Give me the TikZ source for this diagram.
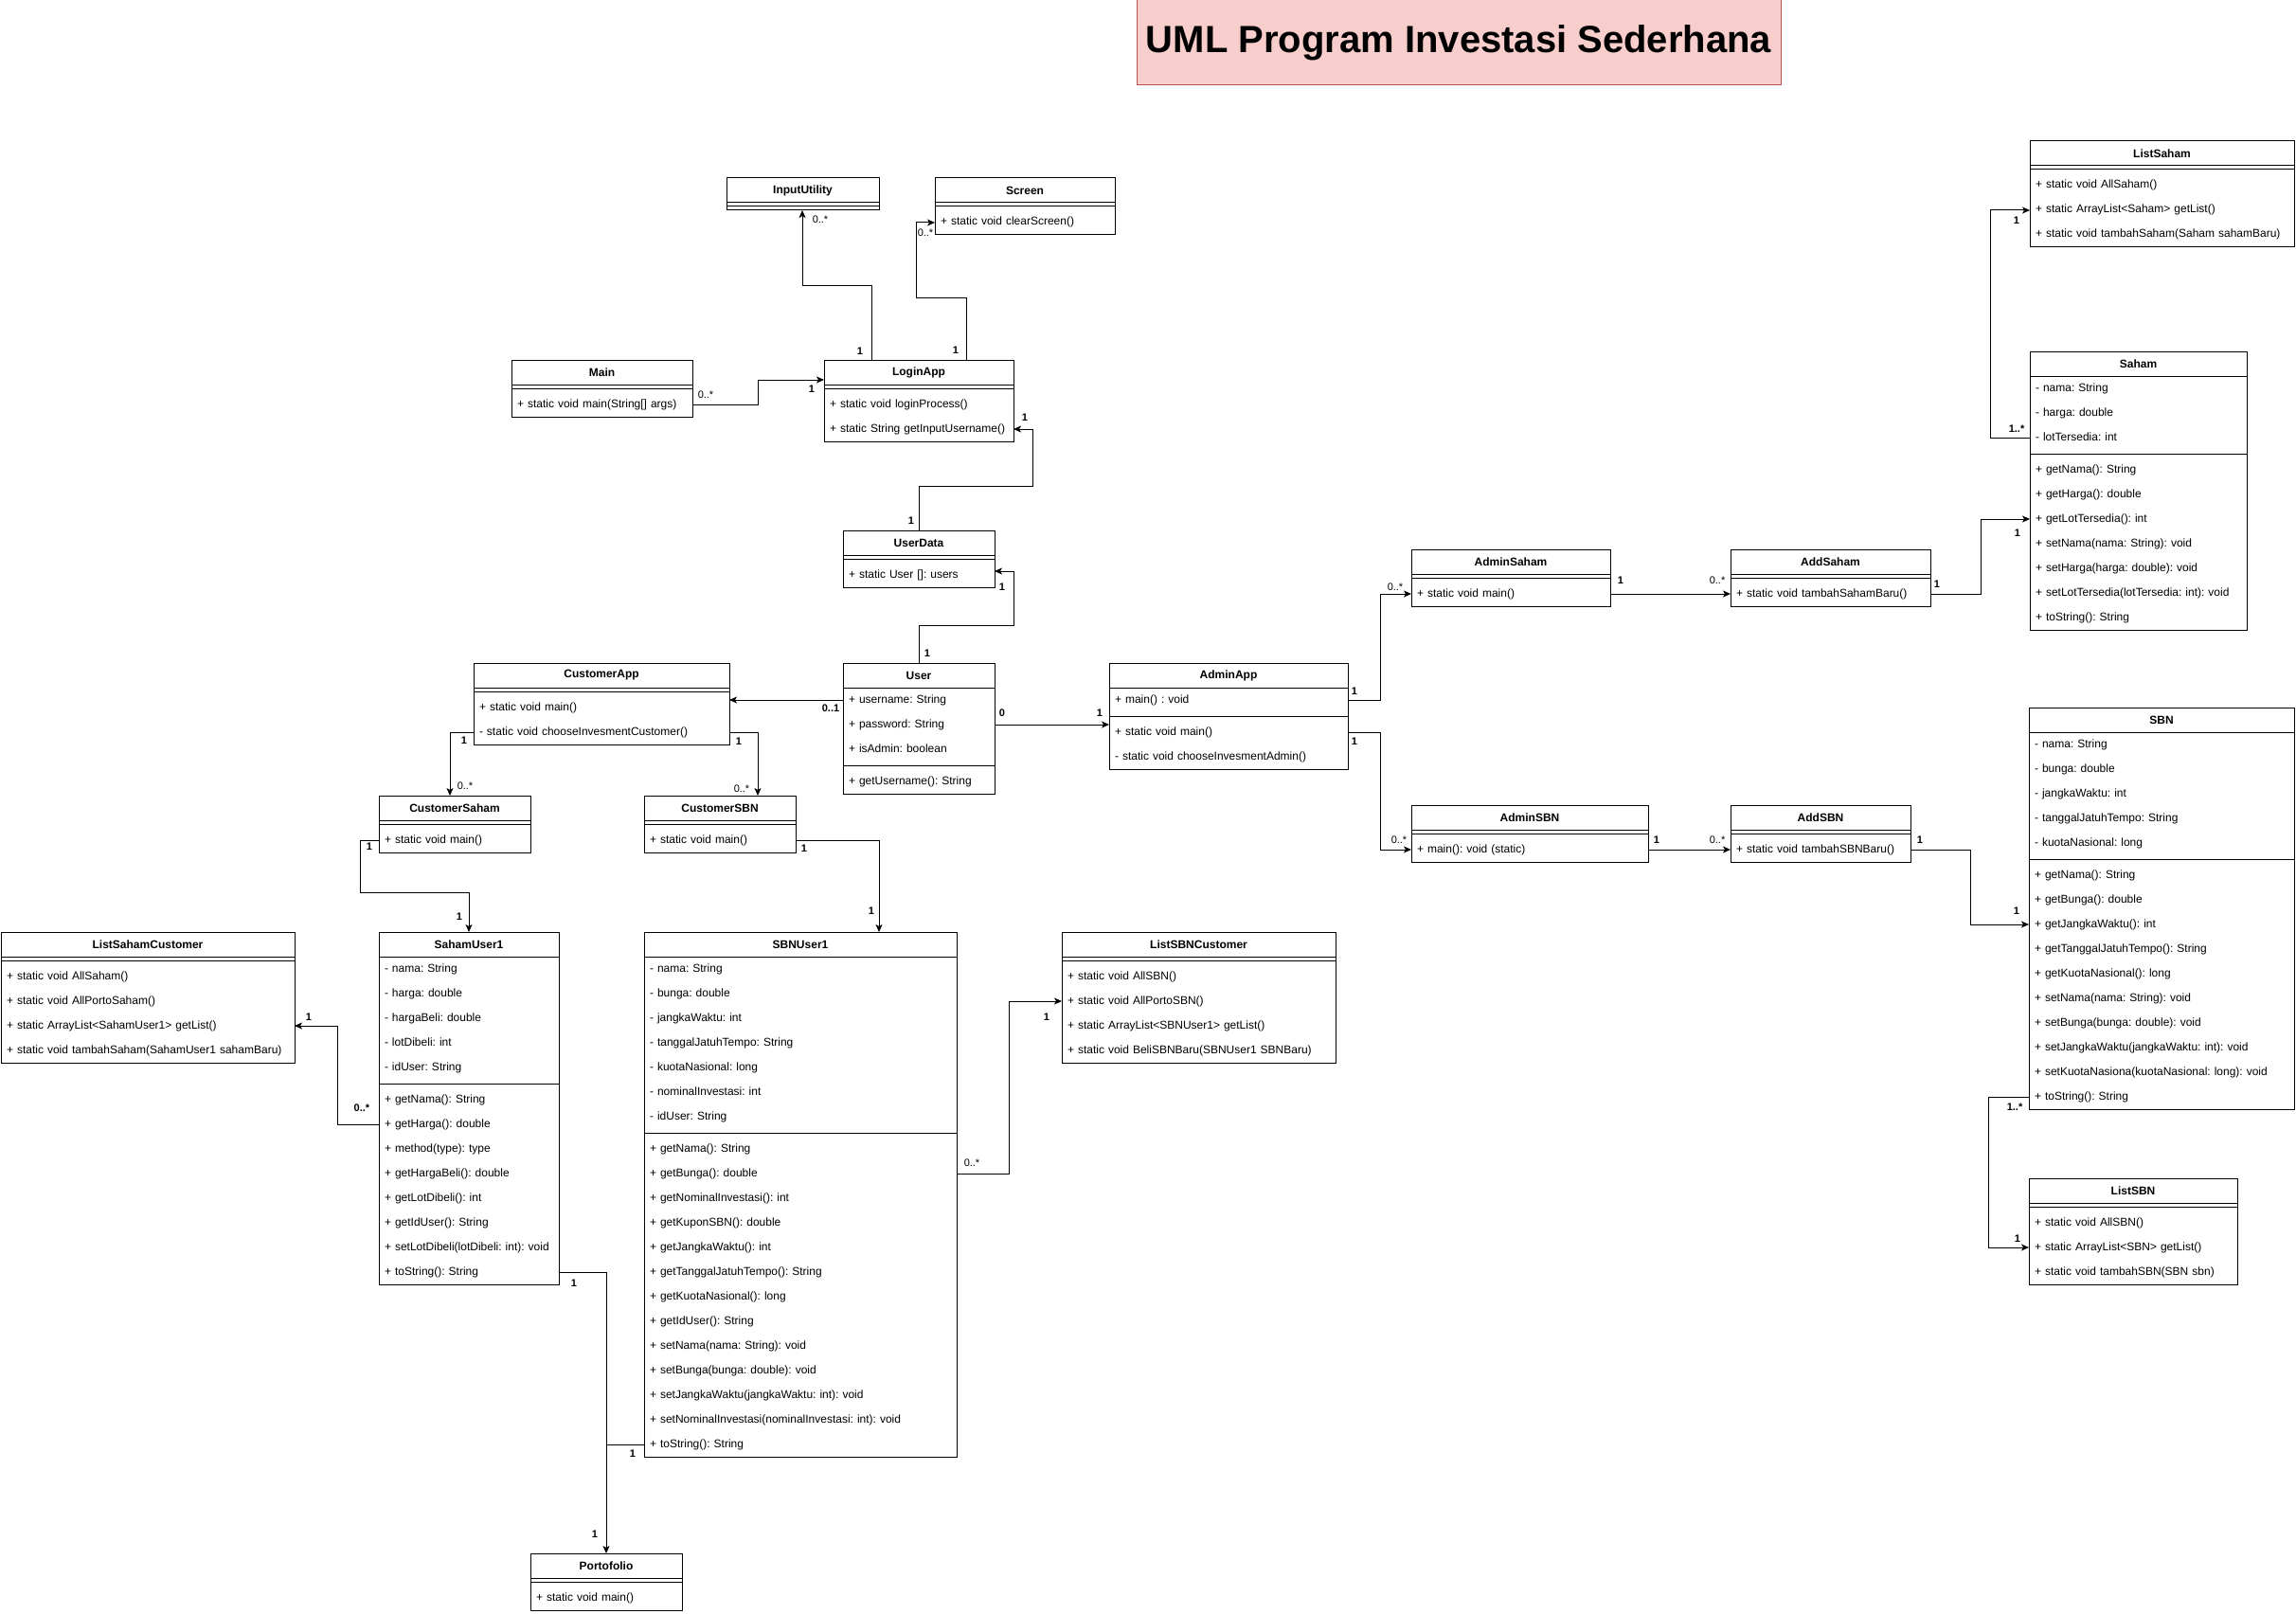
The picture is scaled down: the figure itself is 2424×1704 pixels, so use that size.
\documentclass[tikz,border=0pt]{standalone}
\usepackage{fontspec}
\setmainfont{Liberation Sans}
\frenchspacing
\usetikzlibrary{arrows.meta}
\definecolor{titlefill}{HTML}{F8CECC}
\definecolor{titledraw}{HTML}{B85450}

\tikzset{
    clshead/.style={anchor=north west, inner sep=0pt, outer sep=0pt,
      font=\bfseries\fontsize{12}{14}\selectfont},
    clsrow/.style={anchor=north west, inner xsep=6pt, inner ysep=0pt, outer sep=0pt,
      text height=9pt, text depth=3pt, align=left, font=\fontsize{12}{14}\selectfont},
}

% class box: [row height]{name}{x}{y}{width}{title}{attributes}{methods}
\newcommand{\umlclass}[8][26]{%
  \node[clshead, minimum width=#5pt, minimum height=#1pt] (#2) at (#3,#4) {#6};
  \xdef\cury{\the\numexpr#4+#1\relax}%
  \def\attrlist{#7}%
  \ifx\attrlist\empty\else
    \foreach \rowtxt [count=\rowno] in {#7}{%
      \node[clsrow, text width=\the\numexpr#5-12\relax pt, minimum height=#1pt]
        (#2-a\rowno) at (#3,\cury) {\mbox{\rowtxt}};
      \xdef\cury{\the\numexpr\cury+#1\relax}%
    }%
  \fi
  \draw (#3,\cury+4) -- ++(#5,0);
  \xdef\cury{\the\numexpr\cury+8\relax}%
  \def\methlist{#8}%
  \ifx\methlist\empty\else
    \foreach \rowtxt [count=\rowno] in {#8}{%
      \node[clsrow, text width=\the\numexpr#5-12\relax pt, minimum height=#1pt]
        (#2-m\rowno) at (#3,\cury) {\mbox{\rowtxt}};
      \xdef\cury{\the\numexpr\cury+#1\relax}%
    }%
  \fi
  \coordinate (#2-bot) at (#3+#5/2,\cury);
  \draw (#2.south west) -- (#2.south east);
  \draw (#3,#4) rectangle (#3+#5,\cury);
}

\begin{document}
\begin{tikzpicture}[x=1pt, y=-1pt, line width=1pt,
  assoc/.style={draw, -{Stealth[length=8pt,width=7pt,inset=2pt]}},
  mult/.style={inner sep=0pt, font=\fontsize{11}{13}\selectfont},
  multb/.style={inner sep=0pt, font=\bfseries\fontsize{11}{13}\selectfont},
  titlebox/.style={draw=titledraw, fill=titlefill, minimum width=680pt,
    minimum height=90pt, inner sep=0pt, font=\bfseries\fontsize{40}{48}\selectfont}
]
\useasboundingbox (0,0) rectangle (2424,1704);
\node[titlebox] (title) at (1540,45) {UML Program Investasi Sederhana};

% login side
\umlclass{iu}{767}{188}{161}{InputUtility}{}{}
\umlclass{screen}{987}{188}{190}{Screen}{}{+ static void clearScreen()}
\umlclass{main}{540}{380}{191}{Main}{}{+ static void main(String[] args)}
\umlclass{login}{870}{380}{200}{LoginApp}{}{+ static void loginProcess(),
  + static String getInputUsername()}
\umlclass{udata}{890}{560}{160}{UserData}{}{+ static User []: users}
\umlclass{user}{890}{700}{160}{User}{+ username: String, + password: String,
  + isAdmin: boolean}{+ getUsername(): String}

% customer side
\umlclass{custapp}{500}{700}{270}{CustomerApp}{}{+ static void main(),
  - static void chooseInvesmentCustomer()}
\umlclass{custsaham}{400}{840}{160}{CustomerSaham}{}{+ static void main()}
\umlclass{custsbn}{680}{840}{160}{CustomerSBN}{}{+ static void main()}
\umlclass{lsc}{1}{984}{310}{ListSahamCustomer}{}{+ static void AllSaham(),
  + static void AllPortoSaham(), + static ArrayList<SahamUser1> getList(),
  + static void tambahSaham(SahamUser1 sahamBaru)}
\umlclass{sahamu}{400}{984}{190}{SahamUser1}{- nama: String, - harga: double,
  - hargaBeli: double, - lotDibeli: int, - idUser: String}{+ getNama(): String,
  + getHarga(): double, + method(type): type, + getHargaBeli(): double,
  + getLotDibeli(): int, + getIdUser(): String,
  + setLotDibeli(lotDibeli: int): void, + toString(): String}
\umlclass{sbnu}{680}{984}{330}{SBNUser1}{- nama: String, - bunga: double,
  - jangkaWaktu: int, - tanggalJatuhTempo: String, - kuotaNasional: long,
  - nominalInvestasi: int, - idUser: String}{+ getNama(): String,
  + getBunga(): double, + getNominalInvestasi(): int, + getKuponSBN(): double,
  + getJangkaWaktu(): int, + getTanggalJatuhTempo(): String,
  + getKuotaNasional(): long, + getIdUser(): String,
  + setNama(nama: String): void, + setBunga(bunga: double): void,
  + setJangkaWaktu(jangkaWaktu: int): void,
  + setNominalInvestasi(nominalInvestasi: int): void, + toString(): String}
\umlclass{lsbnc}{1121}{984}{289}{ListSBNCustomer}{}{+ static void AllSBN(),
  + static void AllPortoSBN(), + static ArrayList<SBNUser1> getList(),
  + static void BeliSBNBaru(SBNUser1 SBNBaru)}
\umlclass{porto}{560}{1640}{160}{Portofolio}{}{+ static void main()}

% admin side
\umlclass{adminapp}{1171}{700}{252}{AdminApp}{+ main() : void}{+ static void main(),
  - static void chooseInvesmentAdmin()}
\umlclass{adminsaham}{1490}{580}{210}{AdminSaham}{}{+ static void main()}
\umlclass{addsaham}{1827}{580}{211}{AddSaham}{}{+ static void tambahSahamBaru()}
\umlclass{adminsbn}{1490}{850}{250}{AdminSBN}{}{+ main(): void (static)}
\umlclass{addsbn}{1827}{850}{190}{AddSBN}{}{+ static void tambahSBNBaru()}
\umlclass{lsaham}{2143}{149}{279}{ListSaham}{}{+ static void AllSaham(),
  + static ArrayList<Saham> getList(), + static void tambahSaham(Saham sahamBaru)}
\umlclass{saham}{2143}{371}{229}{Saham}{- nama: String, - harga: double,
  - lotTersedia: int}{+ getNama(): String, + getHarga(): double,
  + getLotTersedia(): int, + setNama(nama: String): void,
  + setHarga(harga: double): void, + setLotTersedia(lotTersedia: int): void,
  + toString(): String}
\umlclass{sbn}{2142}{747}{280}{SBN}{- nama: String, - bunga: double,
  - jangkaWaktu: int, - tanggalJatuhTempo: String, - kuotaNasional: long}{
  + getNama(): String, + getBunga(): double, + getJangkaWaktu(): int,
  + getTanggalJatuhTempo(): String, + getKuotaNasional(): long,
  + setNama(nama: String): void, + setBunga(bunga: double): void,
  + setJangkaWaktu(jangkaWaktu: int): void,
  + setKuotaNasiona(kuotaNasional: long): void, + toString(): String}
\umlclass{lsbn}{2142}{1244}{220}{ListSBN}{}{+ static void AllSBN(),
  + static ArrayList<SBN> getList(), + static void tambahSBN(SBN sbn)}

% associations
\draw[assoc] (main-m1.east) -- ++(69,0) |- ([yshift=-8pt]login.west);
\draw[assoc] ([xshift=-50pt]login.north) |- (847,301) -- (847,0 |- iu-bot);
\draw[assoc] ([xshift=50pt]login.north) |- (967,314) |- (screen-m1.west);
\draw[assoc] (udata.north) |- (1090,513) |- (login-m2.east);
\draw[assoc] (user.north) |- (1070,660) |- ([yshift=4pt]udata-m1.east);
\draw[assoc] (user-a1.west) -- (custapp-m1.east |- user-a1.west);
\draw[assoc] (user-a2.east) -- (adminapp.west |- user-a2.east);
\draw[assoc] (custapp-m2.west) -| ([xshift=-5pt]custsaham.north);
\draw[assoc] (custapp-m2.east) -| ([xshift=40pt]custsbn.north);
\draw[assoc] (custsaham-m1.west) -| (380,942) -| (sahamu.north);
\draw[assoc] (custsbn-m1.east) -| ([xshift=83pt]sbnu.north);
\draw[assoc] (sahamu-m2.west) -- ++(-44,0) |- (lsc-m3.east);
\draw[assoc] (sahamu-m8.east) -| (porto.north);
\draw (sbnu-m13.west) -- (porto.north |- sbnu-m13.west);
\draw[assoc] (sbnu-m2.east) -- ++(55,0) |- (lsbnc-m2.west);
\draw[assoc] (adminapp-a1.east) -- ++(34,0) |- (adminsaham-m1.west);
\draw[assoc] (adminapp-m1.east) -- ++(34,0) |- (adminsbn-m1.west);
\draw[assoc] (adminsaham-m1.east) -- (addsaham-m1.west);
\draw[assoc] (adminsbn-m1.east) -- (addsbn-m1.west);
\draw[assoc] (addsaham-m1.east) -| ([xshift=-52pt]saham-m3.west) -- (saham-m3.west);
\draw[assoc] (addsbn-m1.east) -| ([xshift=-62pt]sbn-m3.west) -- (sbn-m3.west);
\draw[assoc] (saham-a3.west) -- ++(-42,0) |- (lsaham-m2.west);
\draw[assoc] (sbn-m10.west) -- ++(-43,0) |- (lsbn-m2.west);

% multiplicities
\foreach \lx/\ly/\lt/\ls [count=\n] in {
  745/417/0..*/mult, 857/411/1/multb, 866/232/0..*/mult, 908/371/1/multb,
  977/246/0..*/mult, 1009/370/1/multb, 962/550/1/multb, 1082/441/1/multb,
  1058/620/1/multb, 979/690/1/multb, 877/748/0..1/multb,
  1058/753/0/multb, 1161/753/1/multb, 490/782/1/multb, 491/830/0..*/mult,
  780/783/1/multb, 783/833/0..*/mult, 390/894/1/multb, 485/968/1/multb,
  849/896/1/multb, 920/962/1/multb, 326/1074/1/multb, 382/1170/0..*/multb,
  606/1355/1/multb, 628/1620/1/multb, 668/1535/1/multb,
  1026/1228/0..*/mult, 1105/1074/1/multb,
  1430/730/1/multb, 1473/620/0..*/mult, 1430/783/1/multb, 1477/887/0..*/mult,
  1711/613/1/multb, 1813/613/0..*/mult, 1749/887/1/multb, 1813/887/0..*/mult,
  2045/617/1/multb, 2130/563/1/multb, 2027/887/1/multb, 2129/962/1/multb,
  2129/453/1..*/multb, 2129/233/1/multb, 2127/1169/1..*/multb, 2130/1308/1/multb}
  \node[\ls] (lab\n) at (\lx,\ly) {\lt};
\end{tikzpicture}
\end{document}
